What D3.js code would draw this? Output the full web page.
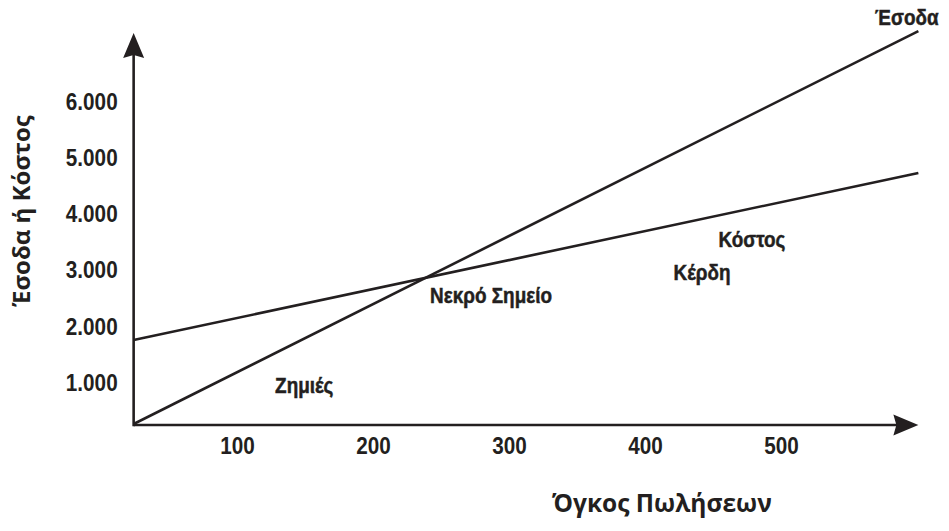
<!DOCTYPE html>
<html>
<head>
<meta charset="utf-8">
<script src="https://cdn.jsdelivr.net/npm/d3@7"></script>
<style>
  html, body { margin: 0; padding: 0; background: #fff; }
  svg { display: block; }
  .narrow { font-family: "Liberation Sans", Arial, sans-serif; font-weight: bold; fill: #231f20; }
  .ann { stroke: #231f20; stroke-width: 0.5px; }
  .title { font-family: "Open Sans", "Noto Sans", sans-serif; font-weight: bold; fill: #231f20; }
</style>
</head>
<body>
<script>
// ---- data (sales volume in units, revenue/cost in currency) ----
const volumeRange = [24, 601];          // extent of the plotted sales volume
const revenueValues = [275, 7255];      // Έσοδα at start/end of volume range
const costValues = [1767, 4735];        // Κόστος at start/end of volume range
const xTickValues = [100, 200, 300, 400, 500];
const yTickValues = [1000, 2000, 3000, 4000, 5000, 6000];
const xAxisExtent = [24, 601];
const yAxisExtent = [257, 7220];
const annotationTexts = ["Έσοδα", "Κόστος", "Κέρδη", "Νεκρό Σημείο", "Ζημιές"];
const annotationX = [569, 454, 421, 242, 128];
const annotationY = [7362, 3419, 2830, 2424, 826];
const xTitle = "Όγκος Πωλήσεων";
const yTitle = "Έσοδα ή Κόστος";

const W = 949, H = 531;
const ink = "#231f20";

const svg = d3.select("body").append("svg").attr("width", W).attr("height", H);

const x = d3.scaleLinear().domain([0, 500]).range([101, 781]);
const y = d3.scaleLinear().domain([0, 6000]).range([439.5, 101.7]);

const loc = d3.formatLocale({ decimal: ",", thousands: ".", grouping: [3], currency: ["", "€"] });
const yFmt = v => loc.format(",")(v);

const x0 = x(xAxisExtent[0]), y0 = y(yAxisExtent[0]);

const tickSx = 0.9, annSx = 0.86;

// tick labels via axes (no tick marks, no domain)
const gx = svg.append("g").attr("transform", `translate(0,${y0})`)
  .call(d3.axisBottom(x).tickValues(xTickValues).tickSize(0).tickPadding(13).tickFormat(d3.format("d")));
gx.select(".domain").remove();
gx.selectAll("text").attr("class", "narrow").style("font-size", "23px").attr("fill", ink)
  .attr("transform", `scale(${tickSx},1)`);

const gy = svg.append("g").attr("transform", `translate(${x0},0)`)
  .call(d3.axisLeft(y).tickValues(yTickValues).tickSize(0).tickPadding(16).tickFormat(yFmt));
gy.select(".domain").remove();
gy.selectAll("text").attr("class", "narrow").style("font-size", "23px").attr("fill", ink)
  .attr("x", -16 / tickSx)
  .attr("transform", `scale(${tickSx},1)`);

// axis lines
const xEnd = x(xAxisExtent[1]), yEnd = y(yAxisExtent[1]);
svg.append("line").attr("x1", x0).attr("y1", y0).attr("x2", xEnd - 20).attr("y2", y0)
  .attr("stroke", ink).attr("stroke-width", 2.6);
svg.append("line").attr("x1", x0).attr("y1", y0 + 1.3).attr("x2", x0).attr("y2", yEnd + 20)
  .attr("stroke", ink).attr("stroke-width", 2.6);

// arrowheads
const ah = 25, aw = 10.5, notch = 3;
svg.append("path")
  .attr("d", `M${xEnd},${y0} L${xEnd - ah},${y0 - aw} L${xEnd - ah + notch},${y0} L${xEnd - ah},${y0 + aw} Z`)
  .attr("fill", ink);
svg.append("path")
  .attr("d", `M${x0},${yEnd} L${x0 - aw},${yEnd + ah} L${x0},${yEnd + ah - notch} L${x0 + aw},${yEnd + ah} Z`)
  .attr("fill", ink);

// lines
const line = d3.line().x(d => x(d[0])).y(d => y(d[1]));
const revenuePts = volumeRange.map((v, i) => [v, revenueValues[i]]);
const costPts = volumeRange.map((v, i) => [v, costValues[i]]);
svg.append("path").attr("d", line(revenuePts)).attr("fill", "none").attr("stroke", ink).attr("stroke-width", 2.6);
svg.append("path").attr("d", line(costPts)).attr("fill", "none").attr("stroke", ink).attr("stroke-width", 2.6);

// annotations
svg.append("g").selectAll("text").data(annotationTexts).join("text")
  .attr("class", "narrow ann")
  .attr("transform", (d, i) => `translate(${x(annotationX[i])},${y(annotationY[i])}) scale(${annSx},1)`)
  .style("font-size", "22px")
  .text(d => d);

// titles
svg.append("text").attr("class", "title")
  .attr("x", 552).attr("y", 512)
  .style("font-size", "24.5px")
  .text(xTitle);
svg.append("text").attr("class", "title")
  .attr("transform", "translate(30,211) rotate(-90)")
  .attr("text-anchor", "middle")
  .style("font-size", "24px")
  .text(yTitle);
</script>
</body>
</html>
